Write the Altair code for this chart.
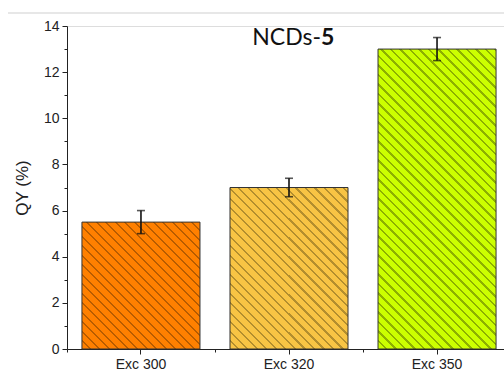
import altair as alt
import pandas as pd

categories = ["Exc 300", "Exc 320", "Exc 350"]
qy_values = [5.5, 7.0, 13.0]
qy_errors = [0.5, 0.4, 0.5]
fill_colors = ["#FF8000", "#F8C444", "#CCFF00"]
hatch_colors = ["#B85C00", "#B38E2E", "#8DB000"]
y_major_ticks = [0, 2, 4, 6, 8, 10, 12, 14]
y_minor_ticks = [1, 3, 5, 7, 9, 11, 13]

df = pd.DataFrame({"cat": categories, "qy": qy_values, "err": qy_errors})
df["lo"] = df["qy"] - df["err"]
df["hi"] = df["qy"] + df["err"]

W, H = 437, 323
RANGE_W = 444
YMAX = 14
BAR_W = 118
PERIOD = 9.5
LINE = 2.2


def hatch(fill, line, value):
    w = BAR_W
    h = value * H / YMAX
    k = (w + h) / (w * w + h * h)
    n = int((w + h) / PERIOD) + 1
    stops = []
    total = w + h
    for i in range(n):
        a = i * PERIOD / total
        b = (i * PERIOD + PERIOD - LINE) / total
        c = (i + 1) * PERIOD / total
        a, b, c = min(a, 1), min(b, 1), min(c, 1)
        stops += [
            alt.GradientStop(offset=a, color=fill),
            alt.GradientStop(offset=b, color=fill),
            alt.GradientStop(offset=b, color=line),
            alt.GradientStop(offset=c, color=line),
        ]
    return alt.LinearGradient(gradient="linear", stops=stops,
                              x1=0, y1=1, x2=k * w, y2=1 - k * h)


xscale = alt.Scale(domain=categories, range=[0, RANGE_W],
                   paddingInner=0.2027, paddingOuter=0.101)
yscale = alt.Scale(domain=[0, YMAX], nice=False)

base = alt.Chart(df)

main_x_axis = alt.Axis(title=None, labelFont="Liberation Sans", labelFontSize=14,
                       labelColor="#222", labelPadding=3, tickSize=5, tickColor="#222",
                       domainColor="#222", labelAngle=0, grid=False, orient="bottom")
main_y_axis = alt.Axis(title="QY (%)", titleFont="Liberation Sans", titleFontSize=17,
                       titleFontWeight="normal", titleColor="#222", titlePadding=12,
                       labelFont="Liberation Sans", labelFontSize=14, labelColor="#222",
                       values=y_major_ticks, tickSize=5, tickColor="#222",
                       domainColor="#222", grid=False, orient="left", labelPadding=3)

bar_layers = []
for i, c in enumerate(categories):
    enc_x = alt.X("cat:N", scale=xscale, axis=main_x_axis if i == 0 else None, sort=categories)
    enc_y = alt.Y("qy:Q", scale=yscale, axis=main_y_axis if i == 0 else None)
    bar_layers.append(
        base.transform_filter(alt.datum.cat == c).mark_bar(
            fill=hatch(fill_colors[i], hatch_colors[i], qy_values[i]),
            stroke="#333333", strokeWidth=1
        ).encode(x=enc_x, y=enc_y)
    )

minor = base.mark_point(opacity=0).encode(
    x=alt.X("cat:N", scale=xscale, sort=categories,
            axis=alt.Axis(title=None, labels=False, domain=False, tickSize=3,
                          tickColor="#222", tickOffset=-74, orient="bottom", grid=False)),
    y=alt.Y("qy:Q", scale=yscale,
            axis=alt.Axis(title=None, labels=False, domain=False, tickSize=3,
                          tickColor="#222", values=y_minor_ticks, orient="left", grid=False)),
)

err = base.mark_errorbar(ticks=alt.MarkConfig(size=8, color="#111"), color="#111",
                         thickness=1.6).encode(
    x=alt.X("cat:N", scale=xscale, sort=categories, axis=None),
    y=alt.Y("lo:Q", scale=yscale, axis=None),
    y2="hi:Q",
)

topline = alt.Chart(pd.DataFrame({"a": [0]})).mark_rule(color="#cfcfcf", strokeWidth=1.2).encode(
    x=alt.value(-59), x2=alt.value(W), y=alt.value(-13)
)

t1 = alt.Chart(pd.DataFrame({"t": ["NCDs-"]})).mark_text(
    font="Lato", fontSize=23, align="right", baseline="alphabetic", color="#111"
).encode(text="t:N", x=alt.value(254), y=alt.value(19))
t2 = alt.Chart(pd.DataFrame({"t": ["5"]})).mark_text(
    font="Lato", fontSize=23, fontWeight="bold", align="left", baseline="alphabetic", color="#111"
).encode(text="t:N", x=alt.value(254), y=alt.value(19))

chart = alt.layer(*bar_layers, minor, err, topline, t1, t2).resolve_axis(
    x="independent", y="independent"
).properties(
    width=W, height=H,
    autosize=alt.AutoSizeParams(type="none"),
    padding={"left": 67, "top": 26, "right": 0, "bottom": 27},
).configure_view(stroke=None).configure(background="white")

chart.save("out.html", embed_options={"renderer": "svg", "actions": False})
